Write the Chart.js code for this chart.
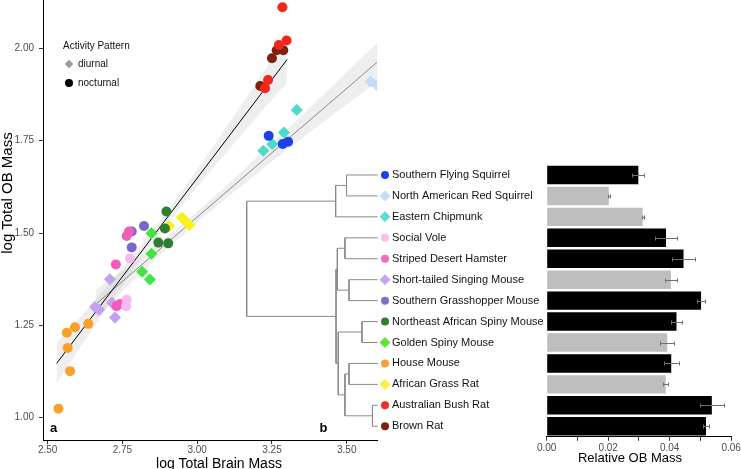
<!DOCTYPE html>
<html>
<head>
<meta charset="utf-8">
<script src="https://cdn.jsdelivr.net/npm/chart.js@4.4.1/dist/chart.umd.min.js"></script>
<style>
  html, body { margin: 0; padding: 0; background: #fff; }
  #wrap { position: relative; width: 741px; height: 469px; overflow: hidden; font-family: "Liberation Sans", Arial, sans-serif; }
  #wrap canvas { position: absolute; left: 0; top: 0; }
  .txt { position: absolute; white-space: nowrap; color: #000; }
  .ctr { width: 200px; text-align: center; }
</style>
</head>
<body>
<div id="wrap">
  <canvas id="scatter" width="741" height="469"></canvas>
  <canvas id="tree" width="741" height="469"></canvas>
  <canvas id="bars" width="741" height="469"></canvas>

  <div class="txt" style="left:63px; top:41px; font-size:10px; line-height:10px; color:#111;">Activity Pattern</div>
  <div style="position:absolute; left:66.3px; top:61.3px; width:6px; height:6px; background:#999; transform:rotate(45deg);"></div>
  <div class="txt" style="left:78px; top:59px; font-size:10px; line-height:10px; color:#111;">diurnal</div>
  <div style="position:absolute; left:65.3px; top:78.7px; width:8px; height:8px; border-radius:50%; background:#000;"></div>
  <div class="txt" style="left:78px; top:77.5px; font-size:10px; line-height:10px; color:#111;">nocturnal</div>

  <div class="txt" style="left:50px; top:420.7px; font-size:13px; line-height:13px; font-weight:bold;">a</div>
  <div class="txt" style="left:319.5px; top:420.7px; font-size:13px; line-height:13px; font-weight:bold;">b</div>

  <div class="txt ctr" style="left:119px; top:456px; font-size:14px; line-height:14px;">log Total Brain Mass</div>
  <div class="txt ctr" style="left:-93px; top:185px; font-size:15px; line-height:16px; transform:rotate(-90deg);">log Total OB Mass</div>
  <div class="txt ctr" style="left:530px; top:451px; font-size:13px; line-height:13px;">Relative OB Mass</div>
</div>
<script>
// species, in tree order (top to bottom)
const species = [
  'Southern Flying Squirrel', 'North American Red Squirrel', 'Eastern Chipmunk',
  'Social Vole', 'Striped Desert Hamster', 'Short-tailed Singing Mouse',
  'Southern Grasshopper Mouse', 'Northeast African Spiny Mouse', 'Golden Spiny Mouse',
  'House Mouse', 'African Grass Rat', 'Australian Bush Rat', 'Brown Rat'
];
const activity = ['nocturnal', 'diurnal', 'diurnal', 'nocturnal', 'nocturnal', 'diurnal',
  'nocturnal', 'nocturnal', 'diurnal', 'nocturnal', 'diurnal', 'nocturnal', 'nocturnal'];

// relative OB mass (panel b) and error
const relOB    = [0.0298, 0.0202, 0.0312, 0.0388, 0.0445, 0.0404, 0.0502, 0.0422, 0.0392, 0.0405, 0.0387, 0.0537, 0.0518];
const relOBErr = [0.0019, 0.0004, 0.0003, 0.0035, 0.0036, 0.0020, 0.0014, 0.0017, 0.0023, 0.0025, 0.0008, 0.0038, 0.0009];

// log total brain mass, log total OB mass (panel a)
const flyingSquirrel = [[3.239, 1.763], [3.286, 1.741], [3.304, 1.747]];
const redSquirrel    = [[3.580, 1.910], [3.600, 1.901]];
const chipmunk       = [[3.333, 1.833], [3.290, 1.772], [3.251, 1.741], [3.221, 1.723]];
const socialVole     = [[2.775, 1.431], [2.764, 1.319], [2.762, 1.302]];
const desertHamster  = [[2.772, 1.504], [2.764, 1.492], [2.728, 1.415], [2.730, 1.302], [2.742, 1.308]];
const singingMouse   = [[2.708, 1.375], [2.658, 1.300], [2.672, 1.292], [2.715, 1.311], [2.725, 1.271]];
const grasshopper    = [[2.822, 1.519], [2.781, 1.504], [2.781, 1.461]];
const neSpinyMouse   = [[2.897, 1.558], [2.892, 1.512], [2.870, 1.474], [2.903, 1.472]];
const goldenSpiny    = [[2.847, 1.499], [2.847, 1.444], [2.816, 1.395], [2.842, 1.374]];
const houseMouse     = [[2.636, 1.254], [2.591, 1.245], [2.564, 1.230], [2.567, 1.189], [2.575, 1.126], [2.536, 1.024]];
const grassRat       = [[2.949, 1.542], [2.961, 1.531], [2.974, 1.522], [2.906, 1.519]];
const bushRat        = [[3.285, 2.111], [3.299, 2.021], [3.273, 2.009], [3.237, 1.914], [3.227, 1.892]];
const brownRat       = [[3.288, 1.995], [3.266, 1.995], [3.250, 1.973], [3.211, 1.898]];
const scatterSets = [flyingSquirrel, redSquirrel, chipmunk, socialVole, desertHamster, singingMouse,
  grasshopper, neSpinyMouse, goldenSpiny, houseMouse, grassRat, bushRat, brownRat];

// fitted lines and confidence bands
const nocLine  = [[2.530, 1.147], [3.301, 1.970]];
const diuLine  = [[2.658, 1.305], [3.620, 1.975]];
const nocBandX = [2.53, 2.65, 2.80, 2.95, 3.10, 3.20, 3.30];
const nocLower = [1.092, 1.240, 1.415, 1.575, 1.720, 1.815, 1.907];
const nocUpper = [1.202, 1.310, 1.455, 1.615, 1.790, 1.909, 2.031];
const diuBandX = [2.66, 2.80, 3.00, 3.20, 3.40, 3.62];
const diuLower = [1.266, 1.382, 1.528, 1.661, 1.787, 1.920];
const diuUpper = [1.346, 1.426, 1.558, 1.705, 1.857, 2.030];

// tree: [child, child, depth]; leaves are 0..12 at depth 1, internal nodes numbered from 13
const treeNodes = [
  [0, 1, 0.762], [13, 2, 0.679], [3, 4, 0.750], [5, 6, 0.781], [15, 16, 0.692],
  [7, 8, 0.880], [9, 10, 0.781], [11, 12, 0.960], [19, 20, 0.750], [18, 21, 0.699],
  [17, 22, 0.682], [14, 23, 0]
];

const xTicks = [2.50, 2.75, 3.00, 3.25, 3.50];
const yTicks = [1.00, 1.25, 1.50, 1.75, 2.00];

const speciesColors = ['#1f40e8', '#c5dcf5', '#48dccb', '#f7b9ef', '#f25cba', '#c4a0f2', '#7c66c9',
  '#2f7d31', '#3ee53e', '#f7a12a', '#f9f21a', '#f2261c', '#7e2110'];
const markerColors = ['#1f40e8', '#c5dcf5', '#5fded0', '#f7c0f0', '#ef6ec0', '#c4a6f2', '#7d70c9',
  '#3a7a30', '#66e040', '#f5a040', '#fbf040', '#ee3028', '#7a2410'];

// tree segments in tree units
const nodePos = {};
species.forEach((s, i) => { nodePos[i] = { d: 1, y: i }; });
const treeSeg = [];
treeNodes.forEach((n, k) => {
  const a = nodePos[n[0]], b = nodePos[n[1]];
  nodePos[13 + k] = { d: n[2], y: (a.y + b.y) / 2 };
  treeSeg.push({ x: a.d, y: a.y }, { x: n[2], y: a.y }, { x: n[2], y: b.y }, { x: b.d, y: b.y }, { x: n[2], y: null });
});

const pts = arr => arr.map(p => ({ x: p[0], y: p[1] }));
const zipXY = (xs, ys) => xs.map((x, i) => ({ x: x, y: ys[i] }));
const isNoc = a => a === 'nocturnal';

const tickFont = { family: '"Liberation Sans", Arial, sans-serif', size: 10 };
const axisStyle = {
  grid: { drawOnChartArea: false, drawTicks: true, tickLength: 4, color: '#333' },
  border: { display: true, color: '#000', width: 1 }
};
const quiet = { legend: { display: false }, tooltip: { enabled: false } };

// panel a: scatter
const datasets = [
  { type: 'line', data: zipXY(nocBandX, nocLower), borderWidth: 0, pointRadius: 0, tension: 0.4, fill: false, order: 10 },
  { type: 'line', data: zipXY(nocBandX, nocUpper), borderWidth: 0, pointRadius: 0, tension: 0.4, fill: '-1',
    backgroundColor: 'rgba(170,170,170,0.2)', order: 10 },
  { type: 'line', data: zipXY(diuBandX, diuLower), borderWidth: 0, pointRadius: 0, tension: 0.4, fill: false, order: 10 },
  { type: 'line', data: zipXY(diuBandX, diuUpper), borderWidth: 0, pointRadius: 0, tension: 0.4, fill: '-1',
    backgroundColor: 'rgba(170,170,170,0.2)', order: 10 },
  { type: 'line', data: pts(nocLine), borderColor: '#000', borderWidth: 1, pointRadius: 0, fill: false, order: 5 },
  { type: 'line', data: pts(diuLine), borderColor: '#888', borderWidth: 1, pointRadius: 0, fill: false, order: 5 }
];
scatterSets.forEach((set, i) => {
  datasets.push({
    type: 'scatter', data: pts(set),
    pointStyle: isNoc(activity[i]) ? 'circle' : 'rectRot',
    pointRadius: isNoc(activity[i]) ? 5 : 6,
    backgroundColor: speciesColors[i], borderWidth: 0, order: 2
  });
});

new Chart(document.getElementById('scatter'), {
  type: 'scatter',
  data: { datasets: datasets },
  options: {
    responsive: false, animation: false, devicePixelRatio: 1,
    layout: { autoPadding: false, padding: { left: 0, top: 0, right: 364, bottom: 0 } },
    plugins: quiet,
    scales: {
      x: {
        type: 'linear', position: 'bottom', min: 2.4843, max: 3.6013,
        afterBuildTicks: s => { s.ticks = xTicks.map(v => ({ value: v })); },
        ticks: { callback: v => v.toFixed(2), font: tickFont, color: '#4d4d4d', padding: 0, maxRotation: 0, autoSkip: false },
        afterFit: s => { s.height = 29; s.paddingLeft = 0; s.paddingRight = 0; },
        ...axisStyle
      },
      y: {
        type: 'linear', position: 'left', min: 0.9396, max: 2.1308,
        afterBuildTicks: s => { s.ticks = yTicks.map(v => ({ value: v })); },
        ticks: { callback: v => v.toFixed(2), font: tickFont, color: '#4d4d4d', padding: 5 },
        afterFit: s => { s.width = 43; s.paddingTop = 0; s.paddingBottom = 0; },
        ...axisStyle
      }
    }
  }
});

// panel b: tree and leaf markers
new Chart(document.getElementById('tree'), {
  type: 'scatter',
  data: {
    datasets: [
      { type: 'line', data: treeSeg, borderColor: '#8a8a8a', borderWidth: 1, pointRadius: 0, fill: false, spanGaps: false, order: 1 },
      { type: 'scatter', data: species.map((s, i) => ({ x: 1.056, y: i })),
        pointStyle: activity.map(a => isNoc(a) ? 'circle' : 'rectRot'),
        pointRadius: activity.map(a => isNoc(a) ? 4 : 5.5),
        backgroundColor: markerColors, borderWidth: 0, order: 0 }
    ]
  },
  options: {
    responsive: false, animation: false, devicePixelRatio: 1,
    layout: { autoPadding: false, padding: { left: 240, top: 164.5, right: 346, bottom: 32.25 } },
    plugins: quiet,
    scales: {
      x: { type: 'linear', display: false, min: -0.0511, max: 1.1321 },
      y: { type: 'linear', display: false, min: -0.5, max: 12.5, reverse: true }
    }
  }
});

const errorBars = {
  id: 'errorBars',
  afterDatasetsDraw(chart) {
    const { ctx, scales: { x, y } } = chart;
    ctx.save();
    ctx.strokeStyle = '#707070';
    ctx.lineWidth = 1;
    relOB.forEach((v, i) => {
      const yc = Math.round(y.getPixelForValue(i)) + 0.5;
      const x0 = Math.round(x.getPixelForValue(v - relOBErr[i])) + 0.5;
      const x1 = Math.round(x.getPixelForValue(v + relOBErr[i])) + 0.5;
      ctx.beginPath();
      ctx.moveTo(x0, yc); ctx.lineTo(x1, yc);
      ctx.moveTo(x0, yc - 2); ctx.lineTo(x0, yc + 2);
      ctx.moveTo(x1, yc - 2); ctx.lineTo(x1, yc + 2);
      ctx.stroke();
    });
    ctx.restore();
  }
};

new Chart(document.getElementById('bars'), {
  type: 'bar',
  data: {
    labels: species,
    datasets: [{
      data: relOB,
      backgroundColor: activity.map(a => isNoc(a) ? '#000000' : '#bebebe'),
      barPercentage: 0.88, categoryPercentage: 1
    }]
  },
  options: {
    indexAxis: 'y',
    responsive: false, animation: false, devicePixelRatio: 1,
    layout: { autoPadding: false, padding: { left: 392, top: 164.5, right: 9.8, bottom: 0 } },
    plugins: quiet,
    scales: {
      x: {
        min: 0, max: 0.06,
        ticks: { stepSize: 0.01, callback: (v, i) => i % 2 === 0 ? v.toFixed(2) : '', font: tickFont, color: '#4d4d4d',
          padding: 1, maxRotation: 0, autoSkip: false },
        afterFit: s => { s.height = 32.25; s.paddingLeft = 0; s.paddingRight = 0; },
        ...axisStyle
      },
      y: {
        ticks: { font: { family: '"Liberation Sans", Arial, sans-serif', size: 11 }, color: '#111', crossAlign: 'far', padding: 0, autoSkip: false },
        grid: { display: false, drawTicks: false },
        border: { display: false },
        afterFit: s => { s.width = 154.7; s.paddingTop = 0; s.paddingBottom = 0; }
      }
    }
  },
  plugins: [errorBars]
});
</script>
</body>
</html>
